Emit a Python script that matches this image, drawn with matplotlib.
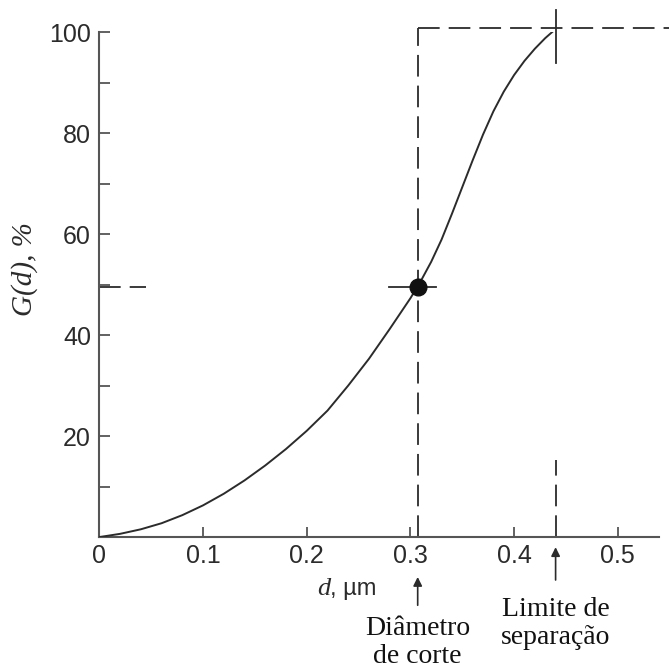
import matplotlib
matplotlib.use("Agg")
import matplotlib.pyplot as plt

# curve: particle diameter (um) vs cumulative fraction (%)
d_vals = [0.00, 0.02, 0.04, 0.06, 0.08, 0.10, 0.12, 0.14, 0.16, 0.18,
          0.20, 0.22, 0.24, 0.26, 0.28, 0.30, 0.31, 0.32, 0.33, 0.34,
          0.35, 0.36, 0.37, 0.38, 0.39, 0.40, 0.41, 0.42, 0.43, 0.44]
G_vals = [0.0, 0.64, 1.54, 2.74, 4.34, 6.28, 8.58, 11.22, 14.18, 17.44,
          21.04, 25.04, 30.0, 35.3, 41.2, 47.3, 50.7, 54.5, 58.9, 64.0,
          69.3, 74.6, 79.7, 84.3, 88.2, 91.5, 94.3, 96.7, 98.8, 100.6]

d_cut = 0.307
G_cut = 49.6
d_lim = 0.440
G_top = 100.8

x_ticks = [0, 0.1, 0.2, 0.3, 0.4, 0.5]
x_labels = ["0", "0.1", "0.2", "0.3", "0.4", "0.5"]
y_ticks = [0, 20, 40, 60, 80, 100]
y_labels = ["", "20", "40", "60", "80", "100"]
y_minor = [10, 30, 50, 70, 90]

INK = "#2b2b2b"
SANS = "Liberation Sans"
SERIF = "Liberation Serif"
DASH = (0, (12, 5))

fig = plt.figure(figsize=(6.69, 6.68), dpi=100)
ax = fig.add_axes([0.1485, 0.196, 0.837, 0.756])

ax.plot(d_vals, G_vals, color=INK, lw=1.4, solid_joinstyle="round", zorder=3)

# guide lines
dash_kw = dict(color=INK, lw=1.3, linestyle=DASH, clip_on=False, zorder=2)
ax.plot([d_cut, d_cut], [0, G_top], **dash_kw)
ax.plot([d_cut, 0.56], [G_top, G_top], **dash_kw)
ax.plot([0, d_cut], [0, 0], **dash_kw)
ax.plot([0, 0.045], [G_cut, G_cut], **dash_kw)
ax.plot([0.279, 0.325], [G_cut, G_cut], color=INK, lw=1.3, clip_on=False, zorder=2)
ax.plot([d_lim, d_lim], [93.9, 104.4], color=INK, lw=1.3, clip_on=False, zorder=2)
ax.plot([d_lim, d_lim], [0, 15.2], **dash_kw)

ax.plot([d_cut], [G_cut], "o", color="#111111", ms=12, zorder=4, clip_on=False)

ax.set_xlim(0, 0.54)
ax.set_ylim(0, 100)
for side in ("top", "right"):
    ax.spines[side].set_visible(False)
for side in ("left", "bottom"):
    ax.spines[side].set_color("#555555")
    ax.spines[side].set_linewidth(1.5)

ax.set_xticks(x_ticks)
ax.set_xticklabels(x_labels)
ax.set_yticks(y_ticks)
ax.set_yticklabels(y_labels)
ax.set_yticks(y_minor, minor=True)
ax.tick_params(axis="both", which="both", direction="in", color="#555555",
               width=1.3, labelcolor=INK, labelsize=18)
ax.tick_params(axis="y", which="both", length=8, pad=6)
ax.tick_params(axis="x", which="major", length=7, pad=5)
for lab in ax.get_xticklabels() + ax.get_yticklabels():
    lab.set_fontfamily(SANS)

# axis titles
ax.text(0.2225, -10.3, "d", ha="right", va="center", fontsize=19,
        family=SERIF, style="italic", color=INK)
ax.text(0.2225, -10.3, ", µm", ha="left", va="center", fontsize=17,
        family=SANS, color=INK)
fig.text(25 / 669, 1 - 269 / 668, "G(d), %", rotation=90, ha="center",
         va="center", fontsize=21, family=SERIF, style="italic", color=INK)

# annotations below the axis
arrow_kw = dict(arrowstyle="-|>", color=INK, lw=1.2, mutation_scale=13,
                shrinkA=0, shrinkB=0)
ax.annotate("", xy=(d_cut, -7.9), xytext=(d_cut, -13.5),
            arrowprops=arrow_kw, annotation_clip=False)
ax.annotate("", xy=(d_lim, -2.0), xytext=(d_lim, -8.5),
            arrowprops=arrow_kw, annotation_clip=False)
ax.text(d_cut, -15.6, "Diâmetro\nde corte", ha="center", va="top",
        fontsize=20, family=SERIF, color="#111111", linespacing=1.18)
ax.text(d_lim, -11.8, "Limite de\nseparação", ha="center", va="top",
        fontsize=20, family=SERIF, color="#111111", linespacing=1.18)

fig.savefig("out.png", dpi=100)
